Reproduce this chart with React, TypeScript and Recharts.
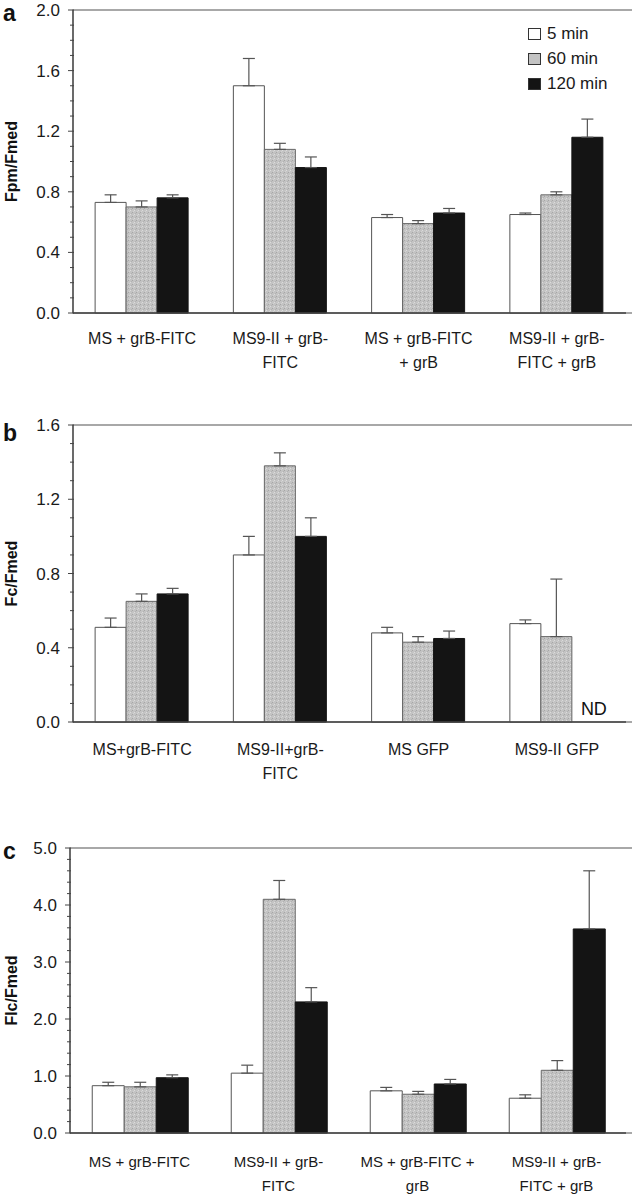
import React from "react";
import { BarChart, Bar, XAxis, YAxis, ErrorBar, ReferenceArea, ReferenceDot, Legend } from "recharts";

const FONT = '"Liberation Sans", Arial, Helvetica, sans-serif';

const seriesNames = ["5 min", "60 min", "120 min"];

// panel a: Fpm/Fmed
const catsA = ["MS + grB-FITC", "MS9-II + grB-\nFITC", "MS + grB-FITC\n+ grB", "MS9-II + grB-\nFITC + grB"];
const a5 = [0.73, 1.5, 0.63, 0.65];
const a5Err = [0.05, 0.18, 0.02, 0.01];
const a60 = [0.7, 1.08, 0.59, 0.78];
const a60Err = [0.04, 0.04, 0.02, 0.02];
const a120 = [0.76, 0.96, 0.66, 1.16];
const a120Err = [0.02, 0.07, 0.03, 0.12];
const aTicks = [0, 0.1, 0.2, 0.3, 0.4, 0.5, 0.6, 0.7, 0.8, 0.9, 1.0, 1.1, 1.2, 1.3, 1.4, 1.5, 1.6, 1.7, 1.8, 1.9, 2.0];
const aLabels = [0, 0.4, 0.8, 1.2, 1.6, 2.0];

// panel b: Fc/Fmed (120 min for MS9-II GFP not determined)
const catsB = ["MS+grB-FITC", "MS9-II+grB-\nFITC", "MS GFP", "MS9-II GFP"];
const b5 = [0.51, 0.9, 0.48, 0.53];
const b5Err = [0.05, 0.1, 0.03, 0.02];
const b60 = [0.65, 1.38, 0.43, 0.46];
const b60Err = [0.04, 0.07, 0.03, 0.31];
const b120 = [0.69, 1.0, 0.45, null];
const b120Err = [0.03, 0.1, 0.04, null];
const bTicks = [0, 0.1, 0.2, 0.3, 0.4, 0.5, 0.6, 0.7, 0.8, 0.9, 1.0, 1.1, 1.2, 1.3, 1.4, 1.5, 1.6];
const bLabels = [0, 0.4, 0.8, 1.2, 1.6];

// panel c: Flc/Fmed
const catsC = ["MS + grB-FITC", "MS9-II + grB-\nFITC", "MS + grB-FITC +\ngrB", "MS9-II + grB-\nFITC + grB"];
const c5 = [0.83, 1.05, 0.74, 0.61];
const c5Err = [0.06, 0.14, 0.06, 0.06];
const c60 = [0.81, 4.1, 0.68, 1.1];
const c60Err = [0.08, 0.33, 0.05, 0.17];
const c120 = [0.97, 2.3, 0.86, 3.58];
const c120Err = [0.05, 0.25, 0.08, 1.02];
const cTicks = [0, 0.2, 0.4, 0.6, 0.8, 1.0, 1.2, 1.4, 1.6, 1.8, 2.0, 2.2, 2.4, 2.6, 2.8, 3.0, 3.2, 3.4, 3.6, 3.8, 4.0, 4.2, 4.4, 4.6, 4.8, 5.0];
const cLabels = [0, 1, 2, 3, 4, 5];

const legendFills = ["#ffffff", "#c3c3c3", "#141414"];

function makeRows(cats, v5, e5, v60, e60, v120, e120) {
  return cats.map((name, i) => ({
    name,
    v5: v5[i],
    e5: e5[i] == null ? null : [0, e5[i]],
    v60: v60[i],
    e60: e60[i] == null ? null : [0, e60[i]],
    v120: v120[i],
    e120: e120[i] == null ? null : [0, e120[i]],
  }));
}

function YTick(props) {
  const { x, y, payload, labels } = props;
  const v = payload.value;
  const major = labels.some((l) => Math.abs(l - v) < 1e-6);
  return (
    <g>
      <line x1={x - (major ? 5 : 3)} x2={x + 1} y1={y} y2={y} stroke="#444" strokeWidth={1} />
      {major && (
        <text x={x - 13} y={y} dy={6} textAnchor="end" fontSize={17} fontFamily={FONT} fill="#1a1a1a">
          {Number(v).toFixed(1)}
        </text>
      )}
    </g>
  );
}

function XTick(props) {
  const { x, y, payload, fontSize, first } = props;
  const lines = String(payload.value).split("\n");
  return (
    <text x={x} y={y} textAnchor="middle" fontSize={fontSize} fontFamily={FONT} fill="#1a1a1a">
      {lines.map((l, i) => (
        <tspan key={i} x={x} dy={i === 0 ? first : 24}>
          {l}
        </tspan>
      ))}
    </text>
  );
}

function LegendBox() {
  return (
    <div style={{ fontFamily: FONT, fontSize: 17, color: "#1a1a1a" }}>
      {seriesNames.map((s, i) => (
        <div key={s} style={{ display: "flex", alignItems: "center", height: 25 }}>
          <span
            style={{
              display: "inline-block",
              width: 11,
              height: 10,
              background: legendFills[i],
              border: "1px solid #333",
              marginRight: 6,
            }}
          />
          <span>{s}</span>
        </div>
      ))}
    </div>
  );
}

function Panel({ id, top, marginTop, plotH, yW, rows, max, ticks, labels, letter, letterY, title, labelSize, first, legend, nd }) {
  const edgeTicks = rows.map((_, i) => i).concat(rows.length);
  const height = marginTop + plotH + 1 + 60 + 4;
  const pat = `speckle-${id}`;
  const titleLabel = (p) => {
    const vb = p.viewBox;
    return (
      <g>
        <text x={3} y={letterY} fontSize={23} fontWeight="bold" fontFamily={FONT} fill="#111">
          {letter}
        </text>
        <text
          transform={`translate(17, ${vb.y + vb.height / 2}) rotate(-90)`}
          textAnchor="middle"
          fontSize={16}
          fontWeight="bold"
          fontFamily={FONT}
          fill="#111"
        >
          {title}
        </text>
      </g>
    );
  };
  const ndLabel = (p) => (
    <text x={p.viewBox.x + 37} y={p.viewBox.y - 7} textAnchor="middle" fontSize={18} fontFamily={FONT} fill="#111">
      ND
    </text>
  );
  return (
    <div style={{ position: "absolute", left: 0, top }}>
      <BarChart
        width={632}
        height={height}
        data={rows}
        margin={{ top: marginTop, right: 6, bottom: 4, left: 0 }}
        barCategoryGap="16%"
        barGap={0}
      >
        <defs>
          <pattern id={pat} width="4" height="4" patternUnits="userSpaceOnUse">
            <rect width="4" height="4" fill="#c3c3c3" />
            <rect x="0" y="0" width="1" height="1" fill="#a6a6a6" />
            <rect x="2" y="2" width="1" height="1" fill="#dcdcdc" />
            <rect x="3" y="1" width="1" height="1" fill="#b2b2b2" />
            <rect x="1" y="3" width="1" height="1" fill="#d2d2d2" />
          </pattern>
        </defs>
        <XAxis
          xAxisId="edge"
          type="number"
          domain={[0, rows.length]}
          ticks={edgeTicks}
          allowDataOverflow
          height={1}
          axisLine={false}
          tick={false}
          tickLine={{ stroke: "#444" }}
          tickSize={7}
        />
        <XAxis
          xAxisId="cat"
          dataKey="name"
          interval={0}
          height={60}
          axisLine={{ stroke: "#444", strokeWidth: 1.3 }}
          tickLine={false}
          tickSize={0}
          tickMargin={0}
          tick={(p) => <XTick {...p} fontSize={labelSize} first={first} />}
        />
        <YAxis
          type="number"
          domain={[0, max]}
          ticks={ticks}
          interval={0}
          width={yW}
          axisLine={{ stroke: "#444", strokeWidth: 1.3 }}
          tickLine={false}
          tickSize={0}
          tickMargin={0}
          tick={(p) => <YTick {...p} labels={labels} />}
          label={titleLabel}
        />
        <ReferenceArea
          xAxisId="edge"
          x1={0}
          x2={rows.length}
          y1={0}
          y2={max}
          fill="none"
          stroke="#8c8c8c"
          strokeWidth={1.3}
          ifOverflow="visible"
        />
        <Bar xAxisId="cat" dataKey="v5" name={seriesNames[0]} fill="#ffffff" stroke="#555" strokeWidth={1} isAnimationActive={false}>
          <ErrorBar dataKey="e5" direction="y" width={6} stroke="#555" strokeWidth={1.2} />
        </Bar>
        <Bar xAxisId="cat" dataKey="v60" name={seriesNames[1]} fill={`url(#${pat})`} stroke="#666" strokeWidth={1} isAnimationActive={false}>
          <ErrorBar dataKey="e60" direction="y" width={6} stroke="#555" strokeWidth={1.2} />
        </Bar>
        <Bar xAxisId="cat" dataKey="v120" name={seriesNames[2]} fill="#141414" stroke="#141414" strokeWidth={1} isAnimationActive={false}>
          <ErrorBar dataKey="e120" direction="y" width={6} stroke="#555" strokeWidth={1.2} />
        </Bar>
        {nd && <ReferenceDot xAxisId="cat" x={nd} y={0} r={0} fill="none" stroke="none" label={ndLabel} />}
        {legend && (
          <Legend
            layout="vertical"
            align="center"
            verticalAlign="middle"
            wrapperStyle={{ left: 528, top: 21, width: 100 }}
            content={() => <LegendBox />}
          />
        )}
      </BarChart>
    </div>
  );
}

export default function App() {
  const rowsA = makeRows(catsA, a5, a5Err, a60, a60Err, a120, a120Err);
  const rowsB = makeRows(catsB, b5, b5Err, b60, b60Err, b120, b120Err);
  const rowsC = makeRows(catsC, c5, c5Err, c60, c60Err, c120, c120Err);
  return (
    <div style={{ position: "absolute", left: 0, top: 0, width: 632, height: 1199, background: "#fff" }}>
      <Panel
        id="a"
        top={0}
        marginTop={10}
        plotH={303}
        yW={73}
        rows={rowsA}
        max={2}
        ticks={aTicks}
        labels={aLabels}
        letter="a"
        letterY={21}
        title="Fpm/Fmed"
        labelSize={16}
        first={31}
        legend
      />
      <Panel
        id="b"
        top={390}
        marginTop={35}
        plotH={297}
        yW={73}
        rows={rowsB}
        max={1.6}
        ticks={bTicks}
        labels={bLabels}
        letter="b"
        letterY={51}
        title="Fc/Fmed"
        labelSize={16}
        first={33}
        nd={catsB[3]}
      />
      <Panel
        id="c"
        top={800}
        marginTop={48}
        plotH={285}
        yW={70}
        rows={rowsC}
        max={5}
        ticks={cTicks}
        labels={cLabels}
        letter="c"
        letterY={59}
        title="Flc/Fmed"
        labelSize={15}
        first={34}
      />
    </div>
  );
}
